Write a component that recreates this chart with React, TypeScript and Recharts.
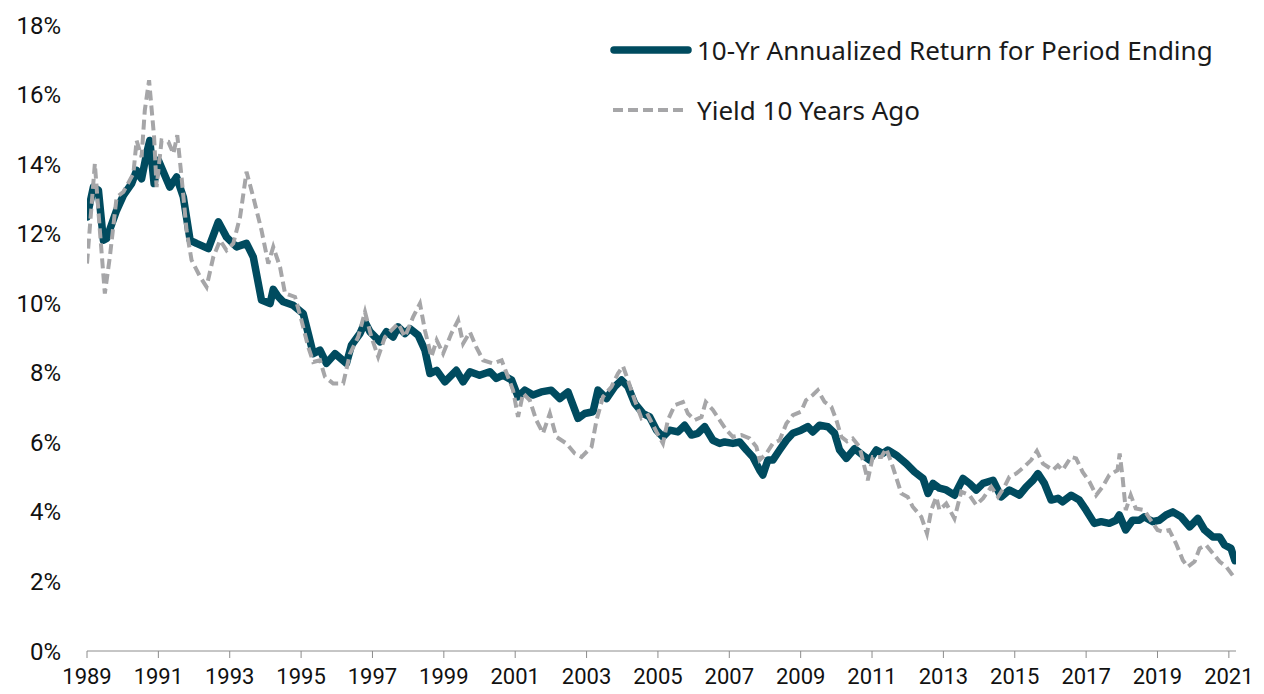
import React from 'react';
import { LineChart, Line, XAxis, YAxis } from 'recharts';

// 10-yr annualized return for the period ending (decimal year, %)
const returnYears = [
  1989.0, 1989.18, 1989.32, 1989.46, 1989.55, 1989.83, 1990.02, 1990.25, 1990.39, 1990.53,
  1990.67, 1990.76, 1990.88, 1991.0, 1991.32, 1991.51, 1991.7, 1991.89, 1992.07, 1992.4,
  1992.68, 1992.91, 1993.19, 1993.47, 1993.66, 1993.89, 1994.13, 1994.22, 1994.35, 1994.5,
  1994.78, 1995.06, 1995.2, 1995.34, 1995.53, 1995.71, 1995.95, 1996.27, 1996.41, 1996.65,
  1996.79, 1996.93, 1997.21, 1997.39, 1997.58, 1997.72, 1997.91, 1998.05, 1998.28, 1998.47,
  1998.61, 1998.8, 1999.03, 1999.35, 1999.54, 1999.73, 2000.0, 2000.29, 2000.47, 2000.66,
  2000.9, 2001.08, 2001.27, 2001.5, 2001.73, 2002.01, 2002.25, 2002.48, 2002.76, 2002.95,
  2003.18, 2003.32, 2003.56, 2003.79, 2003.98, 2004.16, 2004.35, 2004.58, 2004.77, 2004.96,
  2005.14, 2005.33, 2005.56, 2005.75, 2005.94, 2006.12, 2006.31, 2006.54, 2006.73, 2006.87,
  2007.1, 2007.29, 2007.48, 2007.66, 2007.85, 2007.94, 2008.08, 2008.22, 2008.41, 2008.6,
  2008.78, 2009.01, 2009.2, 2009.34, 2009.53, 2009.76, 2009.95, 2010.09, 2010.28, 2010.51,
  2010.74, 2010.93, 2011.12, 2011.3, 2011.44, 2011.68, 2011.96, 2012.19, 2012.43, 2012.57,
  2012.71, 2012.89, 2013.08, 2013.31, 2013.55, 2013.73, 2013.92, 2014.11, 2014.39, 2014.62,
  2014.85, 2015.13, 2015.32, 2015.51, 2015.65, 2015.83, 2016.02, 2016.21, 2016.34, 2016.58,
  2016.81, 2017.0, 2017.23, 2017.42, 2017.65, 2017.84, 2017.93, 2018.11, 2018.3, 2018.49,
  2018.63, 2018.86, 2019.05, 2019.24, 2019.43, 2019.66, 2019.9, 2020.13, 2020.32, 2020.55,
  2020.74, 2020.88, 2021.06, 2021.17,
];
const returnValues = [
  12.48, 13.34, 13.25, 11.81, 11.86, 12.67, 13.1, 13.44, 13.82, 13.58,
  14.3, 14.68, 13.44, 14.11, 13.34, 13.63, 13.05, 11.81, 11.72, 11.57,
  12.34, 11.9, 11.62, 11.72, 11.33, 10.09, 9.99, 10.4, 10.2, 10.04,
  9.94, 9.7, 9.13, 8.55, 8.65, 8.27, 8.55, 8.27, 8.79, 9.13,
  9.46, 9.18, 8.89, 9.18, 9.03, 9.32, 9.13, 9.27, 9.08, 8.65,
  7.98, 8.07, 7.74, 8.07, 7.74, 8.03, 7.93, 8.03, 7.84, 7.93,
  7.79, 7.31, 7.5, 7.36, 7.45, 7.5, 7.26, 7.45, 6.69, 6.83,
  6.88, 7.5, 7.26, 7.6, 7.79, 7.6, 7.12, 6.83, 6.73, 6.35,
  6.16, 6.35, 6.3, 6.49, 6.21, 6.26, 6.45, 6.06, 5.97, 6.01,
  5.97, 6.01, 5.78, 5.58, 5.2, 5.06, 5.49, 5.49, 5.78, 6.06,
  6.26, 6.35, 6.45, 6.3, 6.49, 6.45, 6.26, 5.78, 5.54, 5.82,
  5.63, 5.49, 5.78, 5.68, 5.78, 5.63, 5.39, 5.15, 4.96, 4.53,
  4.82, 4.68, 4.63, 4.48, 4.96, 4.82, 4.63, 4.82, 4.91, 4.43,
  4.63, 4.48, 4.72, 4.91, 5.1, 4.82, 4.34, 4.39, 4.29, 4.48,
  4.34, 4.05, 3.67, 3.72, 3.67, 3.76, 3.91, 3.48, 3.76, 3.76,
  3.86, 3.72, 3.76, 3.91, 4.0, 3.86, 3.57, 3.81, 3.48, 3.28,
  3.28, 3.05, 2.95, 2.6,
];

// Yield 10 years ago (decimal year, %)
const yieldYears = [
  1989.0, 1989.22, 1989.36, 1989.5, 1989.64, 1989.83, 1990.02, 1990.3, 1990.39, 1990.53,
  1990.62, 1990.74, 1990.88, 1990.95, 1991.09, 1991.28, 1991.42, 1991.53, 1991.65, 1991.79,
  1991.93, 1992.17, 1992.35, 1992.54, 1992.73, 1992.91, 1993.1, 1993.29, 1993.47, 1993.66,
  1993.89, 1994.08, 1994.22, 1994.41, 1994.55, 1994.83, 1995.01, 1995.2, 1995.34, 1995.53,
  1995.67, 1995.9, 1996.18, 1996.37, 1996.6, 1996.79, 1996.97, 1997.16, 1997.35, 1997.53,
  1997.72, 1997.91, 1998.14, 1998.33, 1998.47, 1998.65, 1998.8, 1998.98, 1999.21, 1999.4,
  1999.54, 1999.73, 1999.91, 2000.1, 2000.38, 2000.62, 2000.8, 2000.94, 2001.08, 2001.22,
  2001.41, 2001.59, 2001.78, 2001.97, 2002.15, 2002.43, 2002.67, 2002.86, 2003.14, 2003.28,
  2003.46, 2003.7, 2003.88, 2004.02, 2004.16, 2004.35, 2004.54, 2004.72, 2004.96, 2005.14,
  2005.28, 2005.47, 2005.7, 2005.84, 2006.03, 2006.22, 2006.34, 2006.54, 2006.73, 2006.92,
  2007.1, 2007.34, 2007.57, 2007.76, 2007.85, 2008.04, 2008.22, 2008.41, 2008.6, 2008.78,
  2009.01, 2009.15, 2009.34, 2009.48, 2009.67, 2009.86, 2010.0, 2010.14, 2010.3, 2010.46,
  2010.65, 2010.88, 2011.02, 2011.26, 2011.4, 2011.58, 2011.82, 2012.0, 2012.14, 2012.38,
  2012.54, 2012.66, 2012.8, 2012.89, 2013.08, 2013.31, 2013.5, 2013.73, 2013.92, 2014.11,
  2014.34, 2014.53, 2014.71, 2014.85, 2015.04, 2015.27, 2015.46, 2015.62, 2015.79, 2016.07,
  2016.21, 2016.34, 2016.58, 2016.72, 2016.9, 2017.09, 2017.28, 2017.46, 2017.65, 2017.88,
  2017.94, 2018.02, 2018.11, 2018.25, 2018.39, 2018.63, 2018.81, 2019.0, 2019.14, 2019.33,
  2019.52, 2019.71, 2019.85, 2020.04, 2020.18, 2020.36, 2020.55, 2020.74, 2020.93, 2021.16,
];
const yieldValues = [
  11.14, 14.01, 12.1, 10.28, 11.33, 13.05, 13.2, 13.73, 14.68, 14.2,
  15.55, 16.41, 14.78, 13.34, 14.68, 14.64, 14.3, 14.83, 13.63, 12.1,
  11.24, 10.76, 10.47, 11.33, 11.81, 11.52, 11.72, 12.48, 13.78, 13.05,
  12.1, 11.14, 11.62, 11.04, 10.28, 10.18, 9.51, 8.74, 8.31, 8.36,
  7.88, 7.69, 7.69, 8.55, 9.03, 9.75, 9.03, 8.46, 9.03, 9.22,
  9.42, 9.03, 9.61, 9.99, 9.22, 8.46, 8.94, 8.55, 9.13, 9.51,
  8.84, 9.17, 8.74, 8.36, 8.27, 8.36, 7.88, 7.5, 6.73, 7.41,
  7.21, 6.64, 6.26, 6.83, 6.16, 5.97, 5.68, 5.58, 5.87, 6.64,
  7.31, 7.6, 7.98, 8.19, 7.79, 7.21, 6.69, 6.78, 6.3, 5.97,
  6.64, 7.07, 7.16, 6.83, 6.64, 6.73, 7.16, 6.93, 6.64, 6.35,
  6.16, 6.21, 6.11, 5.87, 5.49, 5.68, 5.97, 6.06, 6.54, 6.78,
  6.88, 7.21, 7.36, 7.5, 7.16, 7.02, 6.64, 6.16, 6.03, 6.11,
  5.87, 4.91, 5.58, 5.58, 5.82, 5.3, 4.53, 4.43, 4.15, 3.86,
  3.38, 4.05, 4.43, 4.05, 4.24, 3.81, 4.58, 4.48, 4.2, 4.39,
  4.72, 4.43, 4.72, 5.01, 5.1, 5.3, 5.49, 5.75, 5.39, 5.2,
  5.34, 5.2, 5.58, 5.54, 5.15, 4.87, 4.48, 4.72, 5.06, 5.2,
  5.68, 5.01, 4.05, 4.48, 4.1, 4.05, 3.76, 3.48, 3.43, 3.48,
  3.09, 2.61, 2.42, 2.57, 2.95, 3.05, 2.81, 2.57, 2.42, 2.1,
];

const yearTicks = [1989, 1991, 1993, 1995, 1997, 1999, 2001, 2003, 2005, 2007, 2009, 2011, 2013, 2015, 2017, 2019, 2021];
const pctTicks = [0, 2, 4, 6, 8, 10, 12, 14, 16, 18];

const returnLabel = '10-Yr Annualized Return for Period Ending';
const yieldLabel = 'Yield 10 Years Ago';

const returnData = returnYears.map((year, i) => ({ year, value: returnValues[i] }));
const yieldData = yieldYears.map((year, i) => ({ year, value: yieldValues[i] }));

const TEAL = '#004b5f';
const GREY = '#a6a6a8';
const tickFont = "'Liberation Sans Narrow', 'Arial Narrow', Roboto, sans-serif";

const LegendBox = () => (
  <div style={{ position: 'absolute', left: 608, top: 27, fontFamily: "'Noto Sans', sans-serif", fontSize: 26, color: '#1a1a1a', lineHeight: 1 }}>
    <div style={{ display: 'flex', alignItems: 'center', height: 46 }}>
      <svg width={89} height={14}>
        <line x1={6} y1={7} x2={80} y2={7} stroke={TEAL} strokeWidth={7.5} strokeLinecap="round" />
      </svg>
      <span>{returnLabel}</span>
    </div>
    <div style={{ display: 'flex', alignItems: 'center', height: 46, marginTop: 14 }}>
      <svg width={89} height={14}>
        <line x1={5} y1={7} x2={80} y2={7} stroke={GREY} strokeWidth={4} strokeDasharray="10 5" />
      </svg>
      <span>{yieldLabel}</span>
    </div>
  </div>
);

export default function App() {
  return (
    <div style={{ position: 'absolute', left: 0, top: 0, width: 1264, height: 694, background: '#fff' }}>
      <LineChart width={1264} height={694} margin={{ top: 25, right: 28, bottom: 0, left: 0 }}>
        <XAxis
          type="number"
          dataKey="year"
          domain={[1989, 2021.2]}
          ticks={yearTicks}
          allowDataOverflow
          height={43}
          stroke="#8c8c8c"
          tickSize={7}
          tickMargin={10}
          tick={{ fill: '#111', fontSize: 22, fontFamily: tickFont }}
        />
        <YAxis
          type="number"
          domain={[0, 18]}
          ticks={pctTicks}
          width={87}
          axisLine={false}
          tickLine={false}
          tickSize={0}
          tickMargin={26}
          tickFormatter={(v: number) => `${v}%`}
          tick={{ fill: '#111', fontSize: 24, fontFamily: tickFont }}
        />
        <Line
          data={returnData}
          dataKey="value"
          type="linear"
          stroke={TEAL}
          strokeWidth={7.5}
          strokeLinejoin="round"
          strokeLinecap="round"
          dot={false}
          activeDot={false}
          isAnimationActive={false}
        />
        <Line
          data={yieldData}
          dataKey="value"
          type="linear"
          stroke={GREY}
          strokeWidth={4}
          strokeDasharray="10 5"
          dot={false}
          activeDot={false}
          isAnimationActive={false}
        />
      </LineChart>
      <LegendBox />
    </div>
  );
}
